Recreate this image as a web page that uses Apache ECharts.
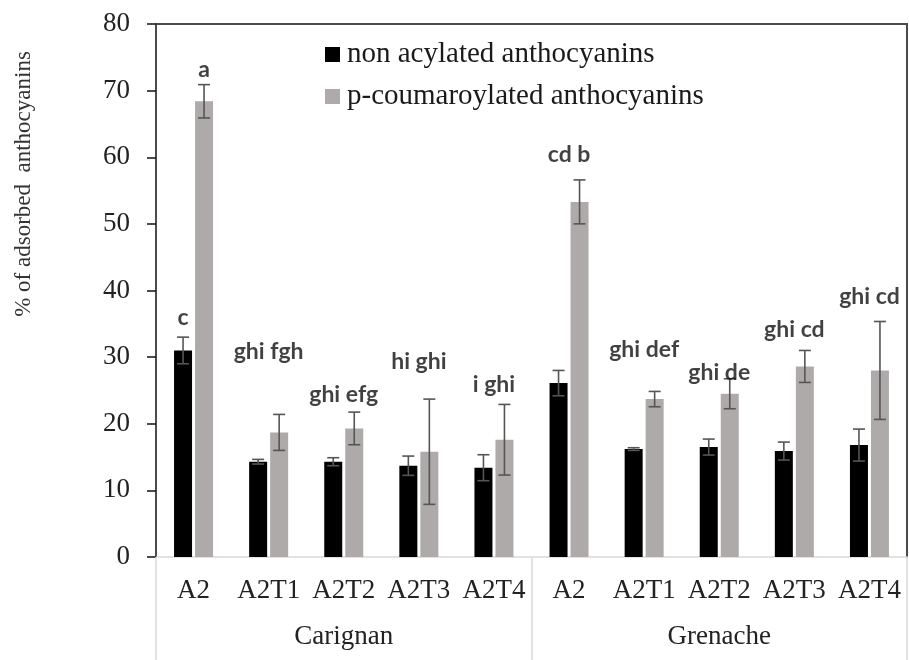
<!DOCTYPE html>
<html>
<head>
<meta charset="utf-8">
<script src="https://cdn.jsdelivr.net/npm/echarts@6.0.0/dist/echarts.min.js"></script>
<style>
  html, body { margin: 0; padding: 0; background: #fff; }
  #chart { width: 909px; height: 660px; }
</style>
</head>
<body>
<div id="chart"></div>
<script>
// Treatments within each cultivar
const treatments = ['A2', 'A2T1', 'A2T2', 'A2T3', 'A2T4', 'A2', 'A2T1', 'A2T2', 'A2T3', 'A2T4'];
const cultivars = ['Carignan', 'Grenache'];

// % of adsorbed anthocyanins (mean and standard deviation)
const nonAcylated = [31.0, 14.3, 14.3, 13.7, 13.4, 26.1, 16.2, 16.5, 15.9, 16.8];
const nonAcylatedSd = [2.0, 0.35, 0.6, 1.45, 1.95, 1.9, 0.2, 1.2, 1.35, 2.4];
const coumaroylated = [68.4, 18.7, 19.3, 15.8, 17.6, 53.3, 23.7, 24.5, 28.6, 28.0];
const coumaroylatedSd = [2.5, 2.7, 2.45, 7.9, 5.3, 3.3, 1.15, 2.25, 2.4, 7.35];

// Significance letters (category index, label text, height in axis units)
const letterCat = [0, 0, 1, 2, 3, 4, 5, 6, 7, 8, 9];
const letterText = ['c', 'a', 'ghi fgh', 'ghi efg', 'hi ghi', 'i ghi', 'cd b', 'ghi def', 'ghi de', 'ghi cd', 'ghi cd'];
const letterLevel = [35.9, 73.1, 30.8, 24.4, 29.4, 25.9, 60.4, 31.1, 27.7, 34.2, 39.1];

const BAR_W = 18;
const BAR_GAP = 3;
const HALF_STEP = (BAR_W + BAR_GAP) / 2;
const SERIF = '"Liberation Serif", "Times New Roman", serif';

function errorSeries(means, sds, shift) {
  return {
    type: 'custom',
    xAxisIndex: 0,
    yAxisIndex: 0,
    z: 5,
    silent: true,
    data: means.map((m, i) => [i, m - sds[i], m + sds[i]]),
    renderItem: function (params, api) {
      const lo = api.coord([api.value(0), api.value(1)]);
      const hi = api.coord([api.value(0), api.value(2)]);
      const x = lo[0] + shift;
      const cap = 6;
      const style = { stroke: '#555555', lineWidth: 1.6 };
      return {
        type: 'group',
        children: [
          { type: 'line', shape: { x1: x, y1: lo[1], x2: x, y2: hi[1] }, style: style },
          { type: 'line', shape: { x1: x - cap, y1: lo[1], x2: x + cap, y2: lo[1] }, style: style },
          { type: 'line', shape: { x1: x - cap, y1: hi[1], x2: x + cap, y2: hi[1] }, style: style }
        ]
      };
    }
  };
}

const chart = echarts.init(document.getElementById('chart'), null, { renderer: 'canvas' });

const letterData = letterCat.map((c, i) => {
  let dx = 0;
  if (i === 0) dx = -HALF_STEP;
  if (i === 1) dx = HALF_STEP;
  return {
    value: [c, letterLevel[i]],
    label: { formatter: letterText[i], offset: [dx, 0] }
  };
});

chart.setOption({
  animation: false,
  backgroundColor: '#ffffff',
  grid: { left: 156, right: 2, top: 24, bottom: 103 },
  legend: {
    orient: 'vertical',
    left: 320,
    top: 35,
    itemWidth: 15,
    itemHeight: 15,
    itemGap: 13,
    icon: 'rect',
    data: ['non acylated anthocyanins', 'p-coumaroylated anthocyanins'],
    textStyle: { fontFamily: SERIF, fontSize: 29, color: '#1a1a1a', padding: [0, 0, 0, 2] }
  },
  xAxis: [
    {
      type: 'category',
      data: treatments,
      position: 'bottom',
      axisLine: { show: true, onZero: false, lineStyle: { color: '#d9d9d9', width: 1.5 } },
      axisTick: { show: false },
      axisLabel: { interval: 0, margin: 20, fontFamily: SERIF, fontSize: 27, color: '#222' },
      splitLine: { show: false }
    },
    {
      type: 'category',
      data: treatments,
      position: 'top',
      axisLine: { show: true, onZero: false, lineStyle: { color: '#4a4a4a', width: 2 } },
      axisTick: { show: false },
      axisLabel: { show: false }
    },
    {
      type: 'category',
      data: cultivars,
      position: 'bottom',
      axisLine: { show: false, onZero: false },
      axisTick: { show: true, interval: 0, length: 103, lineStyle: { color: '#d9d9d9', width: 1.5 } },
      axisLabel: { interval: 0, margin: 66, fontFamily: SERIF, fontSize: 27, color: '#222' }
    }
  ],
  yAxis: [
    {
      type: 'value',
      min: 0,
      max: 80,
      interval: 10,
      axisLine: { show: true, onZero: false, lineStyle: { color: '#111', width: 1.5 } },
      axisTick: { show: true, inside: false, length: 9, lineStyle: { color: '#111', width: 1.5 } },
      axisLabel: { margin: 26, fontFamily: SERIF, fontSize: 27, color: '#222' },
      splitLine: { show: false }
    },
    {
      type: 'value',
      min: 0,
      max: 80,
      interval: 10,
      position: 'right',
      axisLine: { show: true, onZero: false, lineStyle: { color: '#4a4a4a', width: 2 } },
      axisTick: { show: false },
      axisLabel: { show: false },
      splitLine: { show: false }
    }
  ],
  graphic: [
    {
      type: 'text',
      x: 24,
      y: 184,
      rotation: Math.PI / 2,
      style: {
        text: '% of adsorbed  anthocyanins',
        font: '23px ' + SERIF,
        fill: '#333',
        textAlign: 'center',
        textVerticalAlign: 'middle'
      }
    }
  ],
  series: [
    {
      name: 'non acylated anthocyanins',
      type: 'bar',
      xAxisIndex: 0,
      yAxisIndex: 0,
      data: nonAcylated,
      barWidth: BAR_W,
      barGap: (BAR_GAP / BAR_W * 100).toFixed(1) + '%',
      itemStyle: { color: '#000000' }
    },
    {
      name: 'p-coumaroylated anthocyanins',
      type: 'bar',
      xAxisIndex: 0,
      yAxisIndex: 0,
      data: coumaroylated,
      barWidth: BAR_W,
      itemStyle: { color: '#aeaaaa' }
    },
    errorSeries(nonAcylated, nonAcylatedSd, -HALF_STEP),
    errorSeries(coumaroylated, coumaroylatedSd, HALF_STEP),
    {
      type: 'scatter',
      xAxisIndex: 0,
      yAxisIndex: 0,
      symbolSize: 0,
      silent: true,
      z: 6,
      data: letterData,
      label: {
        show: true,
        position: 'inside',
        fontFamily: 'Lato, "Open Sans", sans-serif',
        fontWeight: 'bold',
        fontSize: 23,
        color: '#111'
      }
    }
  ]
});
</script>
</body>
</html>
